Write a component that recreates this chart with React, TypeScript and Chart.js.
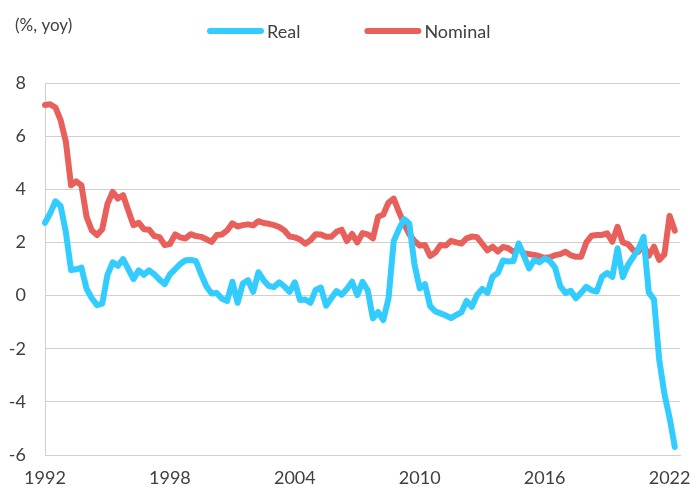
import React, { useEffect, useRef } from 'react';
import { Chart, registerables } from 'chart.js';

Chart.register(...registerables);

// Quarterly categories 1992 Q1 .. 2022 Q3 (last one empty)
const quarterLabels: string[] = [];
for (let y = 1992; y <= 2022; y++) {
  for (let q = 1; q <= 4; q++) {
    if (y === 2022 && q > 3) break;
    quarterLabels.push(`${y} Q${q}`);
  }
}

const tickYears = [1992, 1998, 2004, 2010, 2016, 2022];
const yTicks = [-6, -4, -2, 0, 2, 4, 6, 8];
const unitLabel = '(%, yoy)';
const seriesNames = ['Real', 'Nominal'];

const realValues = [
  2.74, 3.1, 3.55, 3.37, 2.4, 0.96, 0.99, 1.05, 0.25, -0.1,
  -0.36, -0.3, 0.78, 1.25, 1.12, 1.37, 1.0, 0.62, 0.95, 0.78,
  0.95, 0.8, 0.6, 0.43, 0.8, 0.99, 1.19, 1.33, 1.34, 1.3,
  0.8, 0.35, 0.08, 0.1, -0.12, -0.2, 0.52, -0.27, 0.45, 0.58,
  0.14, 0.88, 0.58, 0.36, 0.32, 0.5, 0.34, 0.14, 0.5, -0.17,
  -0.15, -0.27, 0.21, 0.3, -0.38, -0.1, 0.17, 0.03, 0.25, 0.52,
  0.02, 0.52, 0.2, -0.86, -0.62, -0.92, -0.1, 2.05, 2.5, 2.88,
  2.7, 1.15, 0.27, 0.43, -0.4, -0.6, -0.67, -0.75, -0.85, -0.73,
  -0.63, -0.2, -0.42, 0.02, 0.25, 0.1, 0.72, 0.85, 1.32, 1.28,
  1.3, 1.96, 1.5, 1.02, 1.34, 1.25, 1.4, 1.3, 1.05, 0.35,
  0.1, 0.18, -0.1, 0.1, 0.33, 0.2, 0.15, 0.7, 0.85, 0.7,
  1.78, 0.7, 1.15, 1.45, 1.75, 2.21, 0.12, -0.15, -2.4, -3.7,
  -4.6, -5.7,
];

const nominalValues = [
  7.17, 7.2, 7.08, 6.6, 5.8, 4.15, 4.3, 4.15, 2.95, 2.45,
  2.28, 2.5, 3.45, 3.9, 3.65, 3.78, 3.2, 2.65, 2.74, 2.5,
  2.48, 2.24, 2.2, 1.9, 1.94, 2.3, 2.19, 2.15, 2.31, 2.24,
  2.21, 2.12, 2.02, 2.28, 2.3, 2.45, 2.72, 2.6, 2.65, 2.68,
  2.64, 2.8, 2.73, 2.7, 2.65, 2.58, 2.45, 2.22, 2.19, 2.11,
  1.95, 2.08, 2.31, 2.3, 2.21, 2.21, 2.4, 2.48, 2.05, 2.32,
  2.0, 2.35, 2.3, 2.15, 2.97, 3.05, 3.5, 3.65, 3.15, 2.7,
  2.3, 2.05, 1.88, 1.9, 1.49, 1.62, 1.9, 1.88, 2.06, 2.0,
  1.96, 2.15, 2.22, 2.2, 1.95, 1.7, 1.84, 1.66, 1.83, 1.78,
  1.65, 1.78, 1.59, 1.56, 1.53, 1.48, 1.42, 1.44, 1.52, 1.56,
  1.65, 1.52, 1.46, 1.46, 2.0, 2.25, 2.28, 2.28, 2.34, 2.03,
  2.59, 2.0, 1.94, 1.71, 1.65, 1.9, 1.5, 1.84, 1.34, 1.55,
  3.0, 2.44,
];

const BLUE = '#33CCFF';
const RED = '#E8605B';
const GRID = '#D0D0D0';
const TEXT = '#404040';
const FONT = 'Lato, "Noto Sans", sans-serif';

const headerPlugin = {
  id: 'headerLegend',
  afterDraw(chart: any) {
    const ctx = chart.ctx as CanvasRenderingContext2D;
    ctx.save();
    ctx.fillStyle = TEXT;
    ctx.textAlign = 'left';
    ctx.textBaseline = 'middle';
    ctx.font = `17px ${FONT}`;
    ctx.fillText(unitLabel, 15, 26);

    ctx.font = `18px ${FONT}`;
    let x = 210;
    const y = 31;
    chart.data.datasets.forEach((ds: any) => {
      ctx.strokeStyle = ds.borderColor;
      ctx.lineWidth = 6;
      ctx.lineCap = 'round';
      ctx.beginPath();
      ctx.moveTo(x, y);
      ctx.lineTo(x + 51, y);
      ctx.stroke();
      ctx.fillStyle = TEXT;
      ctx.fillText(ds.label, x + 57, y + 1);
      x += 57 + ctx.measureText(ds.label).width + 67;
    });
    ctx.restore();
  },
};

export default function App() {
  const canvasRef = useRef<HTMLCanvasElement | null>(null);

  useEffect(() => {
    if (!canvasRef.current) return;
    const chart = new Chart(canvasRef.current, {
      type: 'line',
      data: {
        labels: quarterLabels,
        datasets: [
          {
            label: seriesNames[0],
            data: realValues,
            borderColor: BLUE,
            backgroundColor: BLUE,
            borderWidth: 6,
            pointRadius: 0,
            tension: 0,
            borderJoinStyle: 'round',
            borderCapStyle: 'round',
            fill: false,
          },
          {
            label: seriesNames[1],
            data: nominalValues,
            borderColor: RED,
            backgroundColor: RED,
            borderWidth: 6,
            pointRadius: 0,
            tension: 0,
            borderJoinStyle: 'round',
            borderCapStyle: 'round',
            fill: false,
          },
        ],
      },
      options: {
        responsive: false,
        animation: false,
        devicePixelRatio: 1,
        layout: { padding: { top: 83, right: 13, left: 0, bottom: 0 } },
        plugins: {
          legend: { display: false },
          title: { display: false },
          tooltip: { enabled: false },
        },
        scales: {
          x: {
            type: 'category',
            grid: { display: false, drawTicks: false },
            border: { display: true, color: GRID, width: 1 },
            ticks: {
              autoSkip: false,
              maxRotation: 0,
              minRotation: 0,
              padding: 14,
              color: TEXT,
              font: { family: FONT, size: 18, lineHeight: 1 },
              callback: (_v: any, i: number) => {
                const lab = quarterLabels[i];
                const yr = parseInt(lab.slice(0, 4), 10);
                return lab.endsWith('Q1') && tickYears.includes(yr) ? String(yr) : '';
              },
            },
            afterFit: (scale: any) => {
              scale.height = 33;
            },
          },
          y: {
            min: yTicks[0],
            max: yTicks[yTicks.length - 1],
            grid: { color: GRID, lineWidth: 1, drawTicks: false },
            border: { display: true, color: GRID, width: 1 },
            ticks: {
              stepSize: 2,
              padding: 19,
              color: TEXT,
              font: { family: FONT, size: 18 },
              callback: (v: any) => String(v),
            },
            afterFit: (scale: any) => {
              scale.width = 45;
            },
          },
        },
      },
      plugins: [headerPlugin],
    } as any);
    return () => chart.destroy();
  }, []);

  return (
    <div style={{ position: 'fixed', left: 0, top: 0, width: 694, height: 488, background: '#fff' }}>
      <canvas ref={canvasRef} width={694} height={488} style={{ display: 'block' }} />
    </div>
  );
}
